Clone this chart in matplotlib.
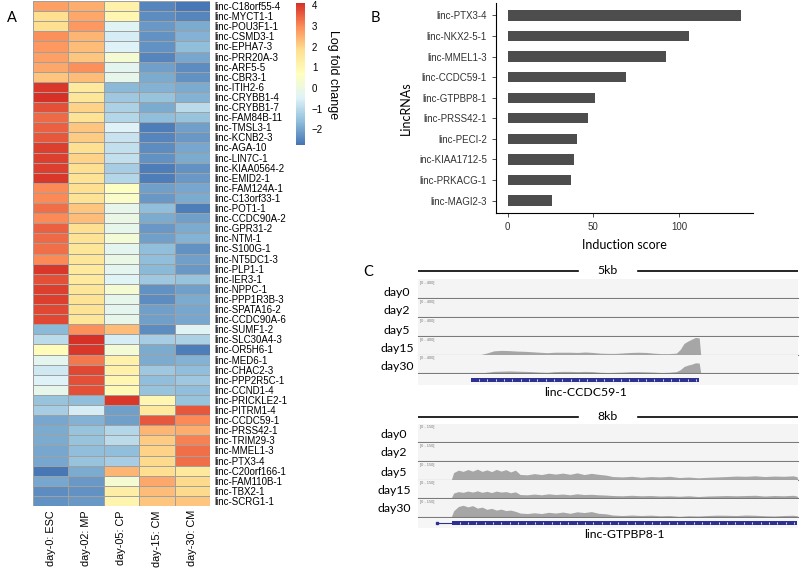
import numpy as np
import matplotlib
matplotlib.use("Agg")
import matplotlib.pyplot as plt
from matplotlib.colors import LinearSegmentedColormap, Normalize

# --- data: panel A heatmap (log fold change) ---
genes = [
    "linc-C18orf55-4", "linc-MYCT1-1", "linc-POU3F1-1", "linc-CSMD3-1", "linc-EPHA7-3",
    "linc-PRR20A-3", "linc-ARF5-5", "linc-CBR3-1", "linc-ITIH2-6", "linc-CRYBB1-4",
    "linc-CRYBB1-7", "linc-FAM84B-11", "linc-TMSL3-1", "linc-KCNB2-3", "linc-AGA-10",
    "linc-LIN7C-1", "linc-KIAA0564-2", "linc-EMID2-1", "linc-FAM124A-1", "linc-C13orf33-1",
    "linc-POT1-1", "linc-CCDC90A-2", "linc-GPR31-2", "linc-NTM-1", "linc-S100G-1",
    "linc-NT5DC1-3", "linc-PLP1-1", "linc-IER3-1", "linc-NPPC-1", "linc-PPP1R3B-3",
    "linc-SPATA16-2", "linc-CCDC90A-6", "linc-SUMF1-2", "linc-SLC30A4-3", "linc-OR5H6-1",
    "linc-MED6-1", "linc-CHAC2-3", "linc-PPP2R5C-1", "linc-CCND1-4", "linc-PRICKLE2-1",
    "linc-PITRM1-4", "linc-CCDC59-1", "linc-PRSS42-1", "linc-TRIM29-3", "linc-MMEL1-3",
    "linc-PTX3-4", "linc-C20orf166-1", "linc-FAM110B-1", "linc-TBX2-1", "linc-SCRG1-1",
]
stages = ["day-0: ESC", "day-02: MP", "day-05: CP", "day-15: CM", "day-30: CM"]
day0_esc = [2.7, 1.8, 1.8, 2.9, 2.8, 2.7, 2.6, 2.2, 4.0, 4.1, 3.7, 3.4, 3.5, 3.6, 3.9, 3.9, 3.9, 4.0,
            3.0, 3.0, 3.3, 3.0, 3.5, 3.4, 3.3, 3.0, 4.0, 3.7, 3.9, 3.9, 3.8, 3.8,
            -1.7, -1.0, 0.8, -0.3, -0.7, -0.5, -0.2, -1.5, -1.3, -2.0, -1.9, -1.9, -2.0, -2.0,
            -2.7, -2.0, -2.4, -2.3]
day2_mp = [2.5, 2.6, 2.8, 2.4, 2.3, 2.2, 2.9, 2.3, 1.5, 1.6, 2.0, 1.7, 2.2, 2.1, 1.8, 2.0, 1.8, 1.7,
           1.8, 1.7, 2.2, 2.3, 1.8, 1.7, 1.6, 1.6, 1.5, 1.5, 1.6, 1.7, 1.7, 1.6,
           2.9, 4.1, 4.0, 3.2, 3.8, 3.7, 3.7, -1.6, -0.6, -1.8, -1.5, -1.5, -1.6, -1.5,
           -1.9, -2.2, -2.3, -2.2]
day5_cp = [1.2, 1.0, -0.4, -0.6, -0.5, 0.3, -0.3, -0.2, -1.7, -1.4, -1.2, -1.1, -0.5, -0.8, -0.9, -0.9, -1.3, -1.1,
           0.6, 0.5, -0.2, -0.1, -0.2, 0.2, -0.3, -0.1, -0.3, -0.4, 0.3, -0.2, -0.3, -0.2,
           2.3, -0.6, 0.2, 1.2, 1.2, 1.0, 0.9, 4.0, -2.1, -2.1, -1.1, -1.0, -1.6, -1.3,
           2.4, 0.3, 1.3, 1.1]
day15_cm = [-2.5, -2.4, -2.2, -2.3, -2.3, -2.5, -2.1, -1.9, -1.8, -1.5, -1.9, -1.6, -2.6, -2.5, -2.4, -2.3, -2.6, -2.6,
            -2.1, -2.2, -1.6, -1.9, -2.2, -2.1, -1.6, -1.6, -1.7, -1.4, -2.3, -2.4, -2.1, -2.1,
            -2.4, -1.3, -1.9, -1.9, -1.4, -1.6, -1.5, 1.0, 1.5, 3.6, 2.4, 2.1, 2.0, 1.9,
            1.8, 2.6, 2.3, 2.2]
day30_cm = [-2.7, -2.5, -1.9, -1.8, -1.6, -2.0, -2.4, -2.3, -1.9, -1.8, -1.0, -1.5, -2.1, -2.2, -2.0, -1.9, -2.3, -2.2,
            -2.0, -1.9, -2.6, -2.1, -1.9, -1.8, -2.3, -2.1, -2.2, -1.5, -2.1, -1.9, -2.0, -2.0,
            -0.4, -1.2, -2.6, -1.8, -1.6, -1.4, -1.6, -1.5, 3.6, 3.0, 2.5, 3.1, 3.3, 3.3,
            1.5, 1.9, 1.9, 2.2]
cbar_ticks = [-2, -1, 0, 1, 2, 3, 4]

# --- data: panel B induction scores ---
top_lincs = ["linc-PTX3-4", "linc-NKX2-5-1", "linc-MMEL1-3", "linc-CCDC59-1", "linc-GTPBP8-1",
             "linc-PRSS42-1", "linc-PECI-2", "inc-KIAA1712-5", "linc-PRKACG-1", "linc-MAGI2-3"]
induction = [136.3, 105.8, 92.6, 69.2, 51.1, 47.0, 40.4, 38.6, 37.1, 26.1]

# --- data: panel C coverage tracks ---
days = ["day0", "day2", "day5", "day15", "day30"]
ccdc59_window = 5000
ccdc59_gene = (700, 3700)
ccdc59_pos = [800, 900, 1000, 1100, 1200, 1300, 1400, 1500, 1600, 1700, 1800, 1900, 2000, 2100, 2200,
              2300, 2400, 2500, 2600, 2700, 2800, 2900, 3000, 3100, 3200, 3300, 3400, 3450, 3500, 3550,
              3600, 3650, 3700, 3720]
ccdc59_day15 = [0, 40, 90, 100, 95, 85, 80, 70, 60, 50, 60, 60, 60, 55, 65, 55, 40, 35, 35, 45, 55, 60,
                55, 40, 30, 30, 40, 120, 250, 300, 340, 380, 370, 0]
ccdc59_day30 = [0, 15, 35, 40, 45, 40, 35, 30, 20, 15, 30, 35, 35, 30, 35, 30, 15, 10, 15, 20, 30, 30,
                25, 20, 10, 15, 30, 70, 140, 170, 190, 220, 215, 0]
ccdc59_zero = [0] * len(ccdc59_pos)

gtpbp8_window = 8000
gtpbp8_gene = (716, 7979)
gtpbp8_intron_start = 400
gtpbp8_pos = [700, 750, 850, 950, 1050, 1150, 1250, 1350, 1450, 1550, 1650, 1750, 1850, 1950, 2050,
              2150, 2300, 2450, 2600, 2750, 2900, 3050, 3200, 3350, 3500, 3650, 3800, 3950, 4100,
              4300, 4500, 4700, 4900, 5100, 5300, 5500, 5700, 5900, 6100, 6300, 6500, 6700, 6900,
              7100, 7300, 7500, 7700, 7900, 7980, 8000]
gtpbp8_day5 = [0, 60, 80, 70, 85, 72, 88, 70, 82, 68, 86, 72, 84, 65, 80, 45, 42, 52, 44, 55, 48, 56,
               46, 58, 44, 54, 46, 40, 28, 25, 30, 22, 28, 25, 30, 20, 24, 18, 22, 25, 28, 32, 30,
               34, 28, 32, 30, 34, 26, 0]
gtpbp8_day15 = [0, 40, 52, 46, 56, 48, 58, 46, 54, 44, 56, 48, 52, 42, 50, 28, 26, 32, 26, 34, 28, 32,
                26, 34, 28, 30, 26, 24, 20, 18, 22, 18, 20, 16, 18, 14, 18, 12, 16, 18, 20, 18, 20,
                22, 16, 20, 18, 22, 16, 0]
gtpbp8_day30 = [0, 50, 85, 95, 82, 92, 72, 80, 62, 70, 56, 64, 52, 56, 46, 32, 28, 34, 28, 38, 32, 40,
                30, 42, 36, 44, 30, 26, 16, 12, 16, 12, 15, 10, 12, 5, 10, 8, 12, 15, 14, 12, 16,
                14, 10, 8, 12, 14, 10, 0]
gtpbp8_zero = [0] * len(gtpbp8_pos)

W, H = 800, 572
fig = plt.figure(figsize=(8, 5.72), dpi=100)


def px(x0, y0, x1, y1):
    # pixel box (top-left origin) -> figure fraction rect
    return [x0 / W, 1 - y1 / H, (x1 - x0) / W, (y1 - y0) / H]


SANS = ["Liberation Sans", "DejaVu Sans"]
CAL = ["Lato", "DejaVu Sans"]

# ---------------- panel A ----------------
mat = np.array([day0_esc, day2_mp, day5_cp, day15_cm, day30_cm]).T
cmap = LinearSegmentedColormap.from_list(
    "rdylbu7", ["#4575B4", "#91BFDB", "#E0F3F8", "#FFFFBF", "#FEE090", "#FC8D59", "#D73027"])
norm = Normalize(vmin=-2.75, vmax=4.1)

axA = fig.add_axes(px(33, 1, 210, 506))
mesh = axA.pcolormesh(mat, cmap=cmap, norm=norm, edgecolor="#a0a0a0", linewidth=0.4)
axA.set_xlim(0, len(stages))
axA.set_ylim(len(genes), 0)
axA.yaxis.tick_right()
axA.set_yticks(np.arange(len(genes)) + 0.5)
axA.set_yticklabels(genes, fontsize=7.0, family=SANS)
axA.set_xticks(np.arange(len(stages)) + 0.5)
axA.set_xticklabels(stages, rotation=90, fontsize=7.8, family=SANS, va="top")
axA.tick_params(length=0, pad=3)
for s in axA.spines.values():
    s.set_visible(False)

cax = fig.add_axes(px(296, 3, 305, 145))
cb = fig.colorbar(mesh, cax=cax, ticks=cbar_ticks)
cb.outline.set_visible(False)
cax.tick_params(length=0, labelsize=7, pad=5)
for t in cax.get_yticklabels():
    t.set_family(SANS)
fig.text(333 / W, 1 - 75 / H, "Log fold change", rotation=-90, fontsize=9,
         family=SANS, ha="center", va="center")
fig.text(12 / W, 1 - 18 / H, "A", fontsize=10.5, family=CAL, ha="center", va="center")

# ---------------- panel B ----------------
axB = fig.add_axes(px(496, 3, 753, 213))
ypos = np.arange(len(top_lincs))[::-1]
axB.barh(ypos, induction, height=0.5, color="#4d4d4d")
axB.set_yticks(ypos)
axB.set_yticklabels(top_lincs, fontsize=7.0, family=SANS, color="#333333")
axB.set_xticks([0, 50, 100])
axB.set_xticklabels(["0", "50", "100"], fontsize=7.0, family=SANS, color="#333333")
axB.set_xlim(-0.05 * max(induction), 1.05 * max(induction))
axB.set_ylim(-0.6, len(top_lincs) - 0.4)
axB.spines["top"].set_visible(False)
axB.spines["right"].set_visible(False)
axB.tick_params(length=3, width=0.6, color="#333333")
axB.set_xlabel("Induction score", fontsize=9, family=CAL, labelpad=5)
axB.set_ylabel("LincRNAs", fontsize=9, family=CAL, labelpad=5)
fig.text(375 / W, 1 - 18 / H, "B", fontsize=10.5, family=CAL, ha="center", va="center")

# ---------------- panel C ----------------
fig.text(368 / W, 1 - 272 / H, "C", fontsize=10.5, family=CAL, ha="center", va="center")


def scale_bar(y, label):
    ax = fig.add_axes(px(418, y - 6, 798, y + 6))
    ax.axis("off")
    ax.set_xlim(0, 1)
    ax.set_ylim(-1, 1)
    ax.plot([0, 0.42], [0, 0], color="black", lw=1.2)
    ax.plot([0.58, 1], [0, 0], color="black", lw=1.2)
    ax.text(0.5, 0, label, ha="center", va="center", fontsize=8.8, family=CAL)


def track(y_base, window, pos, cov, ymax, rng_label):
    ax = fig.add_axes(px(418, y_base - 18.5, 798, y_base))
    ax.set_facecolor("#f4f4f4")
    ax.fill_between(pos, cov, 0, color="#a6a6a6", lw=0)
    ax.set_xlim(0, window)
    ax.set_ylim(0, ymax)
    ax.set_xticks([])
    ax.set_yticks([])
    for k, s in ax.spines.items():
        s.set_visible(k == "bottom")
    ax.spines["bottom"].set_color("#7a7a7a")
    ax.spines["bottom"].set_linewidth(0.8)
    ax.text(0.005, 0.93, rng_label, transform=ax.transAxes, fontsize=2.8,
            color="#777777", va="top", family=SANS)
    return ax


def gene_model(y, window, gene, label, y_label, intron_start=None):
    ax = fig.add_axes(px(418, y - 5, 798, y + 5))
    ax.set_xlim(0, window)
    ax.set_ylim(-1, 1)
    ax.axis("off")
    ax.add_patch(plt.Rectangle((0, -1), window, 2, color="#f6f6f6", lw=0))
    if intron_start is not None:
        ax.plot([intron_start, gene[0]], [0, 0], color="#2e3192", lw=0.8)
        ax.plot([intron_start], [0], marker="s", ms=1.5, color="#2e3192")
    ax.fill_between([gene[0], gene[1]], -0.45, 0.45, color="#2e3192", lw=0)
    marks = np.arange(gene[0] + window * 0.02, gene[1], window * 0.022)
    ax.plot(marks, np.zeros_like(marks), ls="none", marker="|", ms=1.5, mew=0.6, color="white")
    fig.text(((gene[0] + gene[1]) / 2 / window * 380 + 418) / W, 1 - y_label / H, label,
             fontsize=8.8, family=CAL, ha="center", va="center")


# first locus
scale_bar(271, "5kb")
bases1 = [298, 317, 336, 355, 373]
covs1 = [ccdc59_zero, ccdc59_zero, ccdc59_zero, ccdc59_day15, ccdc59_day30]
for d, yb, cv in zip(days, bases1, covs1):
    track(yb, ccdc59_window, ccdc59_pos, cv, 400, "[0 - 400]")
    fig.text(397 / W, 1 - (yb - 6) / H, d, fontsize=8.8, family=CAL, ha="center", va="center")
gene_model(380, ccdc59_window, ccdc59_gene, "linc-CCDC59-1", 393)

# second locus
scale_bar(417, "8kb")
bases2 = [442, 461, 480, 498, 517]
covs2 = [gtpbp8_zero, gtpbp8_zero, gtpbp8_day5, gtpbp8_day15, gtpbp8_day30]
for d, yb, cv in zip(days, bases2, covs2):
    track(yb, gtpbp8_window, gtpbp8_pos, cv, 150, "[0 - 150]")
    fig.text(394 / W, 1 - (yb - 8) / H, d, fontsize=8.8, family=CAL, ha="center", va="center")
gene_model(523, gtpbp8_window, gtpbp8_gene, "linc-GTPBP8-1", 534, gtpbp8_intron_start)

fig.savefig("out.png", dpi=100)
